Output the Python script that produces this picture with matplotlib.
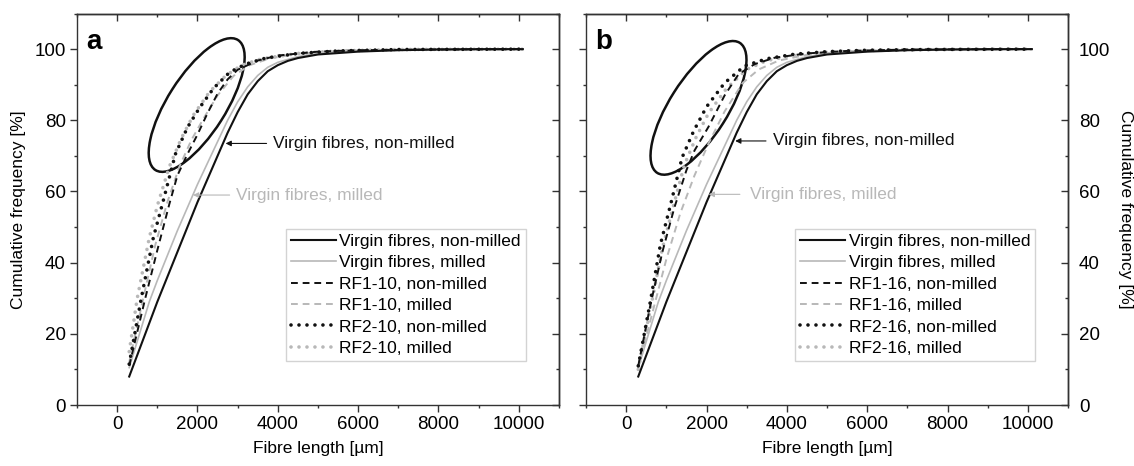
#!/usr/bin/env python3
import matplotlib

matplotlib.use("Agg")
import matplotlib.pyplot as plt
from matplotlib.patches import Ellipse
from matplotlib.ticker import FixedLocator, MultipleLocator
from matplotlib.transforms import ScaledTranslation

plt.rcParams["font.family"] = ["Liberation Sans", "DejaVu Sans"]

BLACK = "#111111"
GREY = "#b8b8b8"

# virgin fibres (same in both panels)
virgin_nm_x = [300, 1000, 1500, 2000, 2500, 2750, 3000, 3250, 3500, 3750, 4000, 4250, 4500, 5000, 6000, 7000, 8000, 9000, 10100]
virgin_nm_y = [8, 29, 43, 57, 70, 76.5, 82.3, 87.3, 91, 93.8, 95.5, 96.7, 97.5, 98.5, 99.3, 99.7, 99.9, 100, 100]
virgin_m_x = [300, 800, 1000, 1500, 2000, 2500, 2750, 3000, 3250, 3500, 3750, 4000, 4500, 5000, 6000, 7000, 8000, 10100]
virgin_m_y = [10.5, 29, 35, 49, 62, 74, 80, 85.2, 89.4, 92.6, 94.9, 96.3, 97.9, 98.8, 99.5, 99.8, 99.9, 100]

# panel a: RF1-10 / RF2-10
rf1_10_nm_x = [300, 700, 1000, 1300, 1500, 1750, 2000, 2250, 2500, 2750, 3000, 3500, 4000, 5000, 6000, 8000, 10100]
rf1_10_nm_y = [11, 30, 43.5, 56.5, 64.5, 70.5, 76, 82, 87.5, 91.5, 94.2, 96.8, 98.2, 99.3, 99.7, 99.9, 100]
rf1_10_m_x = [300, 650, 950, 1250, 1550, 1850, 2150, 2500, 2900, 3300, 3800, 4500, 5500, 7000, 10100]
rf1_10_m_y = [12, 30, 45, 57, 67, 74.5, 80.5, 87, 92.5, 95.5, 97.4, 98.7, 99.5, 99.9, 100]
rf2_10_nm_x = [300, 600, 900, 1150, 1450, 1750, 2050, 2400, 2800, 3200, 3700, 4500, 5500, 7000, 10100]
rf2_10_nm_y = [11.5, 30, 47, 57.5, 70.5, 78, 83.5, 89, 93.5, 95.8, 97.5, 98.8, 99.5, 99.9, 100]
rf2_10_m_x = [300, 500, 800, 1000, 1300, 1600, 1900, 2300, 2700, 3100, 3600, 4500, 5500, 7000, 10100]
rf2_10_m_y = [15, 30, 47, 56, 67, 75, 81.5, 88, 92.5, 95.5, 97.3, 98.8, 99.5, 99.9, 100]

# panel b: RF1-16 / RF2-16
rf1_16_nm_x = [300, 600, 900, 1200, 1500, 1700, 2050, 2450, 2800, 3200, 3700, 4500, 5500, 7000, 10100]
rf1_16_nm_y = [11, 28, 43, 55.5, 66, 71.5, 78.2, 87, 93, 95.8, 97.6, 98.8, 99.5, 99.9, 100]
rf1_16_m_x = [300, 700, 1000, 1350, 1700, 2050, 2450, 2900, 3300, 3800, 4500, 5500, 7000, 10100]
rf1_16_m_y = [10.5, 28, 41, 54, 64.5, 73.5, 82.5, 90.5, 94.3, 96.8, 98.4, 99.4, 99.8, 100]
rf2_16_nm_x = [300, 600, 850, 1120, 1390, 1680, 2000, 2450, 2950, 3500, 4200, 5000, 6000, 7500, 10100]
rf2_16_nm_y = [11, 29, 45, 57, 69.5, 77, 83.8, 90.5, 95.3, 97.3, 98.6, 99.3, 99.7, 99.9, 100]
rf2_16_m_x = [300, 620, 900, 1200, 1450, 1750, 2050, 2500, 3000, 3500, 4200, 5000, 6000, 7500, 10100]
rf2_16_m_y = [10, 28, 44, 57, 67.5, 75.5, 82, 89, 94.3, 96.8, 98.3, 99.2, 99.6, 99.9, 100]

x_major = [0, 2000, 4000, 6000, 8000, 10000]
x_minor = [-1000, 1000, 3000, 5000, 7000, 9000, 11000]
y_major = [0, 20, 40, 60, 80, 100]
y_minor = [10, 30, 50, 70, 90, 110]

FS = 12.5
TICK_FS = 13.5


def style_axes(ax, labels_right=False):
    ax.set_xlim(-1000, 11000)
    ax.set_ylim(0, 110)
    ax.xaxis.set_major_locator(FixedLocator(x_major))
    ax.xaxis.set_minor_locator(FixedLocator(x_minor))
    ax.yaxis.set_major_locator(FixedLocator(y_major))
    ax.yaxis.set_minor_locator(FixedLocator(y_minor))
    for s in ax.spines.values():
        s.set_linewidth(1.0)
        s.set_color("#333333")
    ax.tick_params(which="both", direction="out", top=False, right=False, width=1.0, color="#333333")
    ax.tick_params(which="major", length=5, labelsize=TICK_FS, pad=3)
    ax.tick_params(which="minor", length=2.5)
    ax.set_xlabel("Fibre length [µm]", fontsize=FS, labelpad=6)

    top = ax.secondary_xaxis("top")
    top.xaxis.set_major_locator(FixedLocator(x_major))
    top.xaxis.set_minor_locator(FixedLocator(x_minor))
    top.tick_params(which="both", direction="in", labeltop=False, width=1.0, color="#333333")
    top.tick_params(which="major", length=5)
    top.tick_params(which="minor", length=2.5)
    top.spines["top"].set_linewidth(1.0)

    right = ax.secondary_yaxis("right")
    right.yaxis.set_major_locator(FixedLocator(y_major))
    right.yaxis.set_minor_locator(FixedLocator(y_minor))
    right.tick_params(which="both", direction="in", width=1.0, color="#333333")
    right.tick_params(which="major", length=5, labelsize=TICK_FS, pad=8)
    right.tick_params(which="minor", length=2.5)
    right.spines["right"].set_linewidth(1.0)

    if labels_right:
        ax.tick_params(axis="y", labelleft=False)
        right.set_ylabel("Cumulative frequency [%]", fontsize=FS, rotation=270, labelpad=16)
    else:
        right.tick_params(labelright=False)
        ax.set_ylabel("Cumulative frequency [%]", fontsize=FS, labelpad=6)


def draw_panel(fig, ax, series, letter, ell_center, arrow_nm, arrow_m):
    dash = (0, (3.5, 2.5))
    dots = (0, (0.01, 2.2))
    styles = [
        dict(color=BLACK, lw=1.5, ls="-"),
        dict(color=GREY, lw=1.2, ls="-"),
        dict(color=BLACK, lw=1.4, ls=dash),
        dict(color=GREY, lw=1.4, ls=dash),
        dict(color=BLACK, lw=2.6, ls=dots, dash_capstyle="round"),
        dict(color=GREY, lw=2.6, ls=dots, dash_capstyle="round"),
    ]
    # draw back-to-front so black curves sit on top
    order = [5, 3, 1, 4, 2, 0]
    handles = [None] * len(series)
    for i in order:
        label, xs, ys = series[i]
        (h,) = ax.plot(xs, ys, label=label, **styles[i])
        handles[i] = h

    leg = ax.legend(handles=handles, loc="lower right", bbox_to_anchor=(0.932, 0.112),
                    fontsize=FS, frameon=True, fancybox=False, handlelength=2.6,
                    handletextpad=0.2, labelspacing=0.36, borderpad=0.3, borderaxespad=0)
    leg.get_frame().set_edgecolor("#c8c8c8")
    leg.get_frame().set_linewidth(1.0)

    ax.text(-780, 102, letter, fontsize=20, fontweight="bold", va="center", ha="left")

    ell = Ellipse((0, 0), width=1.54, height=0.58, angle=57.6, fill=False, lw=1.8, color=BLACK,
                  transform=fig.dpi_scale_trans + ScaledTranslation(ell_center[0], ell_center[1], ax.transData))
    ax.add_patch(ell)

    (tip_x, tip_y, tail_x, text_x) = arrow_nm
    ax.annotate("", xy=(tip_x, tip_y), xytext=(tail_x, tip_y),
                arrowprops=dict(arrowstyle="-|>", color=BLACK, lw=0.8, mutation_scale=8, shrinkA=0, shrinkB=0))
    ax.text(text_x, tip_y, "Virgin fibres, non-milled", fontsize=FS, va="center", ha="left", color=BLACK)

    (tip_x, tip_y, tail_x, text_x) = arrow_m
    ax.annotate("", xy=(tip_x, tip_y), xytext=(tail_x, tip_y),
                arrowprops=dict(arrowstyle="-|>", color=GREY, lw=0.8, mutation_scale=8, shrinkA=0, shrinkB=0))
    ax.text(text_x, tip_y, "Virgin fibres, milled", fontsize=FS, va="center", ha="left", color=GREY)


def main() -> None:
    fig = plt.figure(figsize=(11.34, 4.66), dpi=100)
    ax_a = fig.add_axes([0.0679, 0.1309, 0.425, 0.840])
    ax_b = fig.add_axes([0.5168, 0.1309, 0.425, 0.840])

    series_a = [
        ("Virgin fibres, non-milled", virgin_nm_x, virgin_nm_y),
        ("Virgin fibres, milled", virgin_m_x, virgin_m_y),
        ("RF1-10, non-milled", rf1_10_nm_x, rf1_10_nm_y),
        ("RF1-10, milled", rf1_10_m_x, rf1_10_m_y),
        ("RF2-10, non-milled", rf2_10_nm_x, rf2_10_nm_y),
        ("RF2-10, milled", rf2_10_m_x, rf2_10_m_y),
    ]
    series_b = [
        ("Virgin fibres, non-milled", virgin_nm_x, virgin_nm_y),
        ("Virgin fibres, milled", virgin_m_x, virgin_m_y),
        ("RF1-16, non-milled", rf1_16_nm_x, rf1_16_nm_y),
        ("RF1-16, milled", rf1_16_m_x, rf1_16_m_y),
        ("RF2-16, non-milled", rf2_16_nm_x, rf2_16_nm_y),
        ("RF2-16, milled", rf2_16_m_x, rf2_16_m_y),
    ]

    style_axes(ax_a, labels_right=False)
    style_axes(ax_b, labels_right=True)

    draw_panel(fig, ax_a, series_a, "a", (1980, 84.3), (2700, 73.5, 3720, 3880), (1890, 59, 2800, 2970))
    draw_panel(fig, ax_b, series_b, "b", (1800, 83.5), (2714, 74.2, 3480, 3650), (2054, 59.2, 2830, 3075))

    fig.savefig("out.png", dpi=100)
    plt.close(fig)


if __name__ == "__main__":
    main()
